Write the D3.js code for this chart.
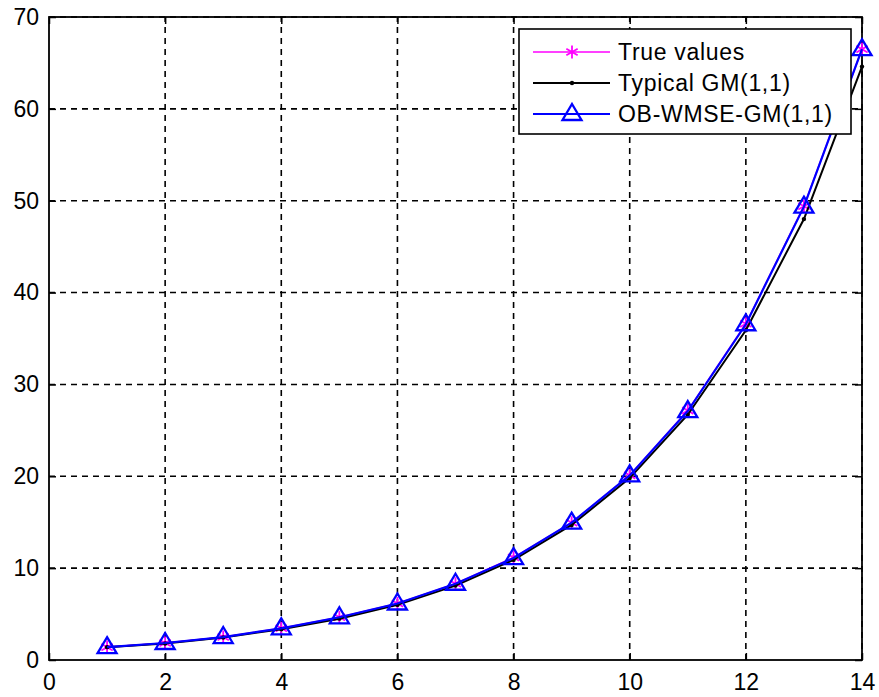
<!DOCTYPE html>
<html>
<head>
<meta charset="utf-8">
<script src="https://cdn.jsdelivr.net/npm/d3@7"></script>
<style>
  body { margin: 0; background: #fff; }
  text { font-family: "Liberation Sans", Arial, sans-serif; }
</style>
</head>
<body>
<div id="container"></div>
<script>
'use strict';

const width = 879,
      height = 697,
      margin = {top: 17, bottom: 37, right: 17, left: 49};

// values
const steps = [1, 2, 3, 4, 5, 6, 7, 8, 9, 10, 11, 12, 13, 14];
const trueValues = [1.4, 1.85, 2.5, 3.45, 4.65, 6.15, 8.3, 11.15, 14.95, 20.1, 27.15, 36.6, 49.4, 66.5];
const typicalGM = [1.4, 1.8, 2.45, 3.35, 4.5, 6.0, 8.1, 10.9, 14.7, 19.8, 26.7, 35.9, 48.0, 64.6];
const obWmseGM = [1.4, 1.85, 2.5, 3.45, 4.65, 6.15, 8.3, 11.1, 14.95, 20.1, 27.1, 36.55, 49.35, 66.5];
const xTicks = [0, 2, 4, 6, 8, 10, 12, 14];
const yTicks = [0, 10, 20, 30, 40, 50, 60, 70];
const seriesNames = ["True values", "Typical GM(1,1)", "OB-WMSE-GM(1,1)"];

const svg = d3.select("#container")
  .append("svg")
  .attr("width", width)
  .attr("height", height);

const xScale = d3.scaleLinear()
  .domain([0, 14])
  .range([margin.left, width - margin.right]);

const yScale = d3.scaleLinear()
  .domain([0, 70])
  .range([height - margin.bottom, margin.top]);

const x0 = margin.left, x1 = width - margin.right,
      y0 = height - margin.bottom, y1 = margin.top;

// dashed grid
svg.append("g")
  .selectAll("line")
  .data(xTicks.slice(1))
  .join("line")
  .attr("x1", d => xScale(d)).attr("x2", d => xScale(d))
  .attr("y1", y0).attr("y2", y1)
  .attr("stroke", "#000")
  .attr("stroke-width", 1.6)
  .attr("stroke-dasharray", "6,5");

svg.append("g")
  .selectAll("line")
  .data(yTicks.slice(1))
  .join("line")
  .attr("x1", x0).attr("x2", x1)
  .attr("y1", d => yScale(d)).attr("y2", d => yScale(d))
  .attr("stroke", "#000")
  .attr("stroke-width", 1.6)
  .attr("stroke-dasharray", "6,5");

// axes with inner ticks on all sides
const xAxis = d3.axisBottom(xScale).tickValues(xTicks).tickSizeInner(-7).tickSizeOuter(0).tickPadding(14);
const yAxis = d3.axisLeft(yScale).tickValues(yTicks).tickSizeInner(-7).tickSizeOuter(0).tickPadding(10);

svg.append("g")
  .attr("transform", `translate(0,${y0})`)
  .call(xAxis)
  .call(g => g.select(".domain").remove())
  .call(g => g.selectAll("text").attr("font-size", 23).attr("fill", "#000").attr("font-family", "Liberation Sans, Arial, sans-serif"))
  .call(g => g.selectAll("line").attr("stroke-width", 1.5));

svg.append("g")
  .attr("transform", `translate(${x0},0)`)
  .call(yAxis)
  .call(g => g.select(".domain").remove())
  .call(g => g.selectAll("text").attr("font-size", 23).attr("fill", "#000").attr("font-family", "Liberation Sans, Arial, sans-serif"))
  .call(g => g.selectAll("line").attr("stroke-width", 1.5));

svg.append("g")
  .attr("transform", `translate(0,${y1})`)
  .call(d3.axisTop(xScale).tickValues(xTicks).tickSizeInner(-7).tickSizeOuter(0).tickFormat(""))
  .call(g => g.select(".domain").remove())
  .call(g => g.selectAll("line").attr("stroke-width", 1.5));

svg.append("g")
  .attr("transform", `translate(${x1},0)`)
  .call(d3.axisRight(yScale).tickValues(yTicks).tickSizeInner(-7).tickSizeOuter(0).tickFormat(""))
  .call(g => g.select(".domain").remove())
  .call(g => g.selectAll("line").attr("stroke-width", 1.5));

// box
svg.append("rect")
  .attr("x", x0).attr("y", y1)
  .attr("width", x1 - x0).attr("height", y0 - y1)
  .attr("fill", "none")
  .attr("stroke", "#000")
  .attr("stroke-width", 1.8);

const line = d3.line()
  .x((d, i) => xScale(steps[i]))
  .y(d => yScale(d));

const asterisk = d3.symbol().type(d3.symbolAsterisk).size(120);
const triangle = "M0,-10 L9.5,6 L-9.5,6 Z";

function drawSeries(values, color, lw, marker) {
  const g = svg.append("g");
  g.append("path")
    .datum(values)
    .attr("d", line)
    .attr("fill", "none")
    .attr("stroke", color)
    .attr("stroke-width", lw);
  g.selectAll(".mk")
    .data(values)
    .join("g")
    .attr("class", "mk")
    .attr("transform", (d, i) => `translate(${xScale(steps[i])},${yScale(d)})`)
    .each(function() { marker(d3.select(this)); });
}

const markers = [
  s => s.append("path").attr("d", asterisk()).attr("fill", "none").attr("stroke", "#ff00ff").attr("stroke-width", 1.8),
  s => s.append("circle").attr("r", 2.2).attr("fill", "#000"),
  s => s.append("path").attr("d", triangle).attr("fill", "none").attr("stroke", "#0000ff").attr("stroke-width", 2.3)
];
const colors = ["#ff00ff", "#000000", "#0000ff"];
const widths = [1.6, 2, 2.2];

drawSeries(trueValues, colors[0], widths[0], markers[0]);
drawSeries(typicalGM, colors[1], widths[1], markers[1]);
drawSeries(obWmseGM, colors[2], widths[2], markers[2]);

// legend
const legend = svg.append("g");
legend.append("rect")
  .attr("x", 519).attr("y", 29)
  .attr("width", 332).attr("height", 105)
  .attr("fill", "#fff")
  .attr("stroke", "#000")
  .attr("stroke-width", 1.6);

seriesNames.forEach((name, i) => {
  const yy = 52 + i * 31;
  legend.append("line")
    .attr("x1", 533).attr("x2", 610)
    .attr("y1", yy).attr("y2", yy)
    .attr("stroke", colors[i])
    .attr("stroke-width", widths[i]);
  const m = legend.append("g").attr("transform", `translate(572,${yy})`);
  markers[i](m);
  legend.append("text")
    .attr("x", 618).attr("y", yy)
    .attr("dy", "0.36em")
    .attr("font-size", 23)
    .attr("letter-spacing", 0.7)
    .text(name);
});
</script>
</body>
</html>
